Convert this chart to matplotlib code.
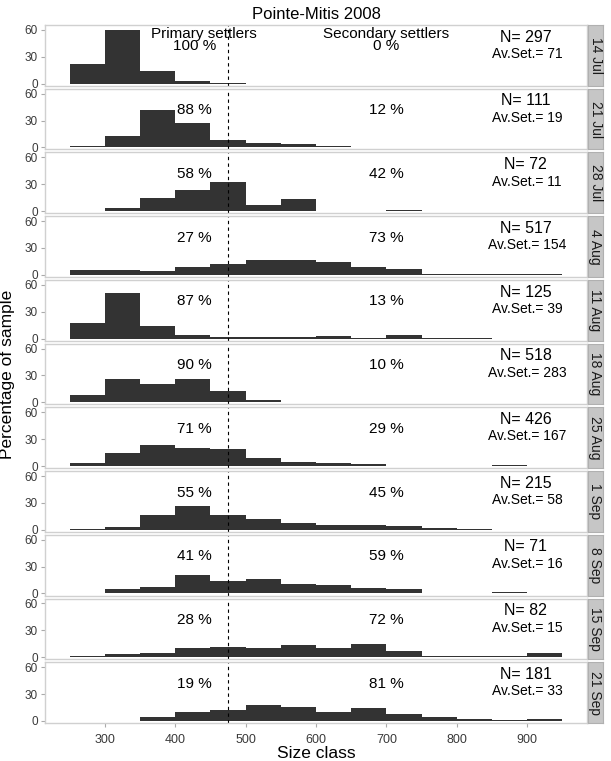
import numpy as np
import matplotlib.pyplot as plt

# size classes (left edge of each 50-wide bin)
bins = [250, 300, 350, 400, 450, 500, 550, 600, 650, 700, 750, 800, 850, 900]

dates = ["14 Jul", "21 Jul", "28 Jul", "4 Aug", "11 Aug", "18 Aug",
         "25 Aug", "1 Sep", "8 Sep", "15 Sep", "21 Sep"]

heights = [
    [22, 60, 14, 3, 1, 0, 0, 0, 0, 0, 0, 0, 0, 0],
    [1, 13, 42, 27, 8, 4.5, 3.3, 1, 0, 0, 0, 0, 0, 0],
    [0, 4, 15, 24, 33, 7, 14, 0, 0, 1, 0, 0, 0, 0],
    [5, 5.5, 4.5, 8.5, 12.5, 16.5, 16.5, 14, 8.5, 6, 1.5, 1.5, 1.2, 0.5],
    [17, 51, 14, 3.5, 1.5, 1.5, 1.5, 2.5, 1, 4, 0.8, 0.8, 0, 0],
    [8, 26, 20.5, 25.5, 13, 2.5, 0.8, 0.5, 0, 0.5, 0, 0, 0.5, 0.5],
    [3, 14, 24, 20.5, 19, 9.5, 4, 3, 2, 0, 0.5, 0.5, 1, 0.5],
    [0.5, 3.5, 16, 26, 16, 12, 8, 5, 5, 4, 1.5, 0.5, 0, 0],
    [0, 5, 7, 21, 14, 16, 11, 9.5, 6.5, 5, 0, 0, 1.5, 0],
    [0.8, 4, 5, 10, 11.5, 10, 14, 10, 15, 6.5, 1.5, 1.5, 1.5, 5],
    [0, 0, 4, 10, 12, 17.5, 15.5, 10, 14, 7.5, 4, 2.5, 1, 2.5],
]

n_sample = [297, 111, 72, 517, 125, 518, 426, 215, 71, 82, 181]
av_set = [71, 19, 11, 154, 39, 283, 167, 58, 16, 15, 33]
primary = [100, 88, 58, 27, 87, 90, 71, 55, 41, 28, 19]
secondary = [0, 12, 42, 73, 13, 10, 29, 45, 59, 72, 81]

cutoff = 475

plt.rcParams['font.family'] = ['Liberation Sans', 'DejaVu Sans']

fig = plt.figure(figsize=(6.11, 7.61), dpi=100)

W, H = 611.0, 761.0
left, right = 45, 587
top, bottom = 25, 723
gap = 3
n = len(dates)
ph = (bottom - top - gap * (n - 1)) / n

for i in range(n):
    y0 = top + i * (ph + gap)
    ax = fig.add_axes([left / W, 1 - (y0 + ph) / H, (right - left) / W, ph / H])
    ax.bar(bins, heights[i], width=50, align='edge', color='#333333', linewidth=0)
    ax.axvline(cutoff, color='black', linestyle=(0, (3, 3)), linewidth=0.8)
    ax.set_xlim(215, 985)
    ax.set_ylim(-2.3, 65.5)
    ax.set_yticks([0, 30, 60])
    ax.set_xticks([300, 400, 500, 600, 700, 800, 900])
    for s in ax.spines.values():
        s.set_color('#d0d0d0')
        s.set_linewidth(1)
    ax.tick_params(axis='both', length=3, color='#aaaaaa', labelsize=8.5,
                   labelcolor='#3a3a3a', pad=2)
    if i < n - 1:
        ax.tick_params(axis='x', labelbottom=False, length=0)
    else:
        ax.tick_params(axis='x', labelsize=9, pad=5)
        ax.set_xlabel("Size class", fontsize=12.5, labelpad=0)

    if i == 0:
        ax.text(440, 56, "Primary settlers", ha='center', va='center', fontsize=11)
        ax.text(700, 56, "Secondary settlers", ha='center', va='center', fontsize=11)
        ax.set_title("Pointe-Mitis 2008", fontsize=12, pad=4)

    ax.text(427, 41.5, f"{primary[i]} %", ha='center', va='center', fontsize=11)
    ax.text(700, 41.5, f"{secondary[i]} %", ha='center', va='center', fontsize=11)
    ax.text(898, 52, f"N= {n_sample[i]}", ha='center', va='center', fontsize=11.5)
    ax.text(900, 33, f"Av.Set.= {av_set[i]}", ha='center', va='center', fontsize=10)

    # strip on the right
    sx = fig.add_axes([588 / W, 1 - (y0 + ph) / H, 15 / W, ph / H])
    sx.set_facecolor('#c6c6c6')
    sx.set_xticks([])
    sx.set_yticks([])
    for s in sx.spines.values():
        s.set_color('#b0b0b0')
        s.set_linewidth(0.8)
    sx.text(0.5, 0.5, dates[i], rotation=270, ha='center', va='center',
            fontsize=10, color='#1a1a1a', transform=sx.transAxes)

fig.text(8 / W, 1 - 374 / H, "Percentage of sample", rotation=90,
         ha='center', va='center', fontsize=12.5)

fig.savefig("out.png", dpi=100)
